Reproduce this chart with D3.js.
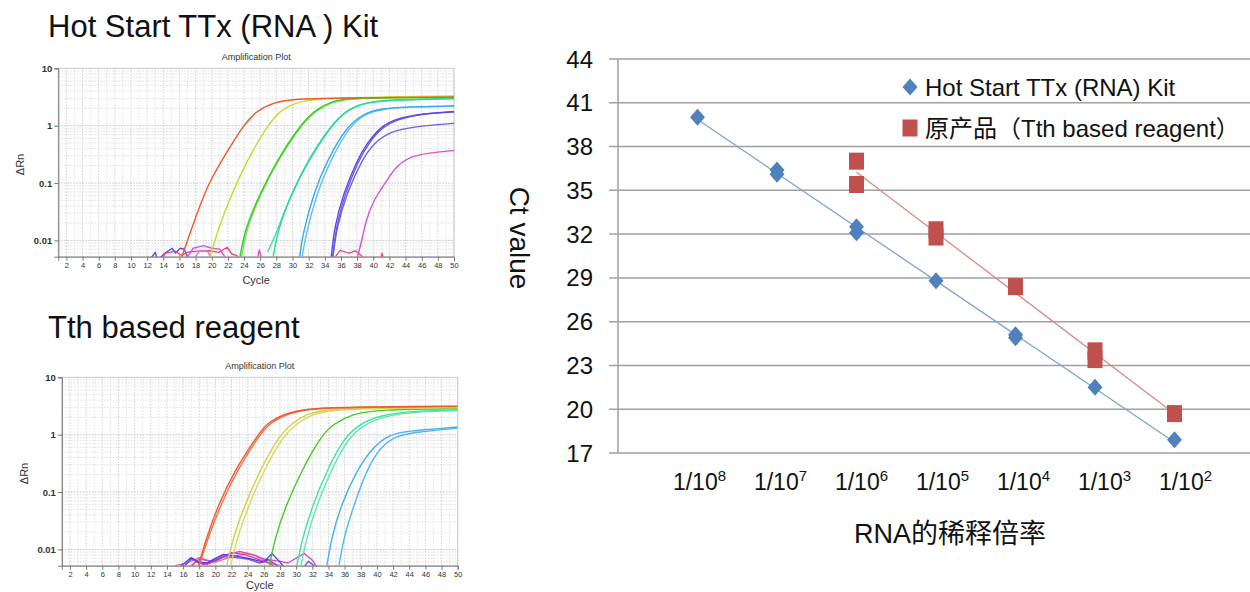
<!DOCTYPE html>
<html lang="zh">
<head>
<meta charset="utf-8">
<script src="https://d3js.org/d3.v7.min.js"></script>
<style>
  body { margin: 0; background: #fff; }
  svg { display: block; font-family: "Liberation Sans", Arial, "Noto Sans CJK SC", sans-serif; }
  .amp text { fill: #333; }
</style>
</head>
<body>
<svg width="1250" height="592"></svg>
<script>
// ---------- right chart: Ct value vs dilution ----------
const dilutionPow = [8, 7, 6, 5, 4, 3, 2];
const ctTicks = [17, 20, 23, 26, 29, 32, 35, 38, 41, 44];
const hotStartPow = [8, 7, 7, 6, 6, 5, 4, 4, 3, 2];
const hotStartCt  = [40.0, 36.4, 36.1, 32.5, 32.1, 28.8, 25.1, 24.9, 21.5, 17.9];
const tthPow = [6, 6, 5, 5, 4, 3, 3, 2];
const tthCt  = [37.0, 35.4, 32.3, 31.8, 28.4, 24.0, 23.4, 19.7];
const legendNames = ["Hot Start TTx (RNA) Kit", "原产品（Tth based reagent）"];

// ---------- amplification plot 1 (Hot Start TTx) : [cycle, dRn] ----------
const ttxOrange  = [[16.3,0.0052],[17.0,0.01],[18.2,0.03],[19.6,0.1],[21.6,0.3],[23.8,0.96],[25.5,1.8],[27.5,2.5],[30,2.9],[35,3.05],[50,3.15]];
const ttxYellow  = [[19.8,0.0052],[20.9,0.0174],[22.5,0.066],[24.4,0.25],[26.8,0.96],[28.5,1.88],[30.6,2.6],[33.4,3.0],[40,3.15],[50,3.3]];
const ttxGreen   = [[23.5,0.0052],[24.2,0.0174],[26.0,0.066],[28.1,0.25],[30.8,0.96],[32.8,1.88],[34.7,2.6],[36.7,3.0],[42,3.1],[50,3.2]];
const ttxGreen2  = [[23.7,0.0052],[24.4,0.018],[26.1,0.066],[28.2,0.25],[30.9,0.95],[32.9,1.85],[34.8,2.55],[36.8,2.95],[42,3.05],[50,3.15]];
const ttxTeal    = [[27.6,0.0052],[28.3,0.0174],[29.9,0.066],[32.0,0.25],[34.7,0.96],[36.7,1.88],[39.2,2.6],[42.5,2.85],[50,3.0]];
const ttxTeal2   = [[26.9,0.0063],[27.9,0.012],[29.5,0.05],[31.8,0.24],[34.6,0.95],[36.6,1.85],[39,2.55],[42.5,2.8],[50,2.95]];
const ttxBlue    = [[30.9,0.0052],[31.2,0.0117],[32.6,0.066],[34.3,0.25],[36.7,0.96],[38.8,1.64],[40.9,2.0],[44.6,2.14],[50,2.2]];
const ttxBlue2   = [[31.2,0.0052],[31.6,0.0117],[33.0,0.066],[34.7,0.25],[37.0,0.96],[39.0,1.62],[41,1.95],[44.6,2.12],[50,2.2]];
const ttxPurple  = [[34.8,0.0052],[35.2,0.0174],[36.3,0.066],[38.0,0.25],[39.2,0.49],[40.9,0.96],[42.9,1.34],[46.2,1.64],[50,1.75]];
const ttxPurple3 = [[35.0,0.0052],[35.4,0.0174],[36.5,0.066],[38.2,0.25],[39.4,0.49],[41.1,0.94],[43,1.3],[46.2,1.62],[50,1.74]];
const ttxPurple2 = [[35.0,0.0052],[35.5,0.017],[36.7,0.066],[38.6,0.25],[40.0,0.49],[42.1,0.79],[45,0.96],[50,1.1]];
const ttxMagenta = [[38.05,0.0052],[38.6,0.01],[39.0,0.02],[40.0,0.05],[41.5,0.099],[42.7,0.19],[44.6,0.29],[46.6,0.33],[50,0.37]];
const ttxNoiseBlue  = [[12.0,0.004],[13.0,0.0062],[13.3,0.0045],[14.2,0.006],[15.1,0.0073],[15.5,0.006],[16.1,0.0073],[16.6,0.007],[17.2,0.0045]];
const ttxNoisePink  = [[13.5,0.004],[14.3,0.006],[15.5,0.0065],[16.2,0.0055],[17.0,0.0062],[18.2,0.0065],[19.8,0.0066],[20.9,0.0062],[21.9,0.0076],[22.5,0.0058],[23.1,0.0055],[23.6,0.004]];
const ttxNoiseMag   = [[16.5,0.004],[17.7,0.0073],[19.0,0.0081],[20.0,0.0073],[21.0,0.007],[22.2,0.004]];
const ttxNoiseMag2  = [[17.5,0.004],[18.5,0.0066],[19.5,0.0064],[20.2,0.004]];
const ttxNoisePink2 = [[25.5,0.004],[25.9,0.0068],[26.3,0.004]];
const ttxNoiseRed   = [[34.7,0.004],[35.9,0.0067],[37.0,0.006],[37.8,0.0066],[38.7,0.0052],[39.3,0.004]];
const ttxNoiseRed2  = [[40.8,0.004],[41.1,0.006],[41.4,0.004]];

// ---------- amplification plot 2 (Tth based reagent) ----------
const tthOrange  = [[17.9,0.0052],[18.9,0.016],[20.4,0.062],[22.4,0.24],[25.1,0.91],[26.3,1.55],[28.4,2.3],[31.3,2.84],[35.8,3.03],[50,3.15]];
const tthOrange2 = [[18.0,0.0052],[19.1,0.016],[20.7,0.062],[22.7,0.24],[25.3,0.9],[26.5,1.5],[28.6,2.25],[31.5,2.8],[36,3.0],[50,3.1]];
const tthYellow  = [[21.4,0.0052],[22.2,0.0163],[23.7,0.062],[25.5,0.238],[27.8,0.91],[29.4,1.55],[31.3,2.32],[33.8,2.73],[37.9,2.95],[50,3.05]];
const tthYellow2 = [[21.9,0.0052],[22.7,0.0163],[24.2,0.062],[26.0,0.238],[28.3,0.91],[29.9,1.5],[31.8,2.25],[34.3,2.65],[38.4,2.85],[50,2.95]];
const tthGreen   = [[26.7,0.0052],[27.4,0.0163],[28.8,0.062],[30.7,0.238],[33.0,0.91],[34.6,1.55],[37.1,2.32],[40.0,2.73],[50,2.85]];
const tthTeal    = [[30.1,0.0052],[30.8,0.0163],[32.1,0.062],[33.8,0.238],[36.0,0.91],[37.9,1.55],[40.4,2.17],[44.1,2.58],[50,2.7]];
const tthTeal2   = [[30.6,0.0052],[31.3,0.0163],[32.6,0.062],[34.3,0.238],[36.5,0.9],[38.4,1.5],[40.9,2.1],[44.5,2.5],[50,2.62]];
const tthBlue    = [[33.8,0.0052],[34.4,0.0163],[35.6,0.062],[37.5,0.238],[39.5,0.61],[41.6,1.02],[43.7,1.14],[46.1,1.22],[50,1.36]];
const tthBlue2   = [[35.3,0.0052],[35.9,0.0163],[37.2,0.062],[38.7,0.238],[40.4,0.61],[42.4,0.95],[44.5,1.1],[50,1.3]];
const tthNoise1 = [[15,0.004],[16,0.0055],[17,0.0072],[18,0.006],[19,0.0058],[20,0.007],[21,0.0082],[22,0.0078],[23,0.0075],[24,0.007],[25,0.0065],[26,0.006],[27,0.0085],[28,0.006],[29,0.004]];
const tthNoise2 = [[15.5,0.004],[17,0.0068],[18.5,0.0055],[20,0.0065],[21,0.0075],[22.5,0.0072],[24,0.0068],[25.5,0.0058],[26.5,0.0066],[27.5,0.0055],[28.5,0.004]];
const tthNoise3 = [[16,0.004],[18,0.0068],[19.5,0.0062],[21,0.0078],[23,0.0092],[24.5,0.0082],[26,0.0068],[28,0.0062],[29,0.0058],[31,0.0085],[32,0.0065],[33,0.004]];
const tthNoise4 = [[16.5,0.004],[17.5,0.006],[19,0.0055],[20.5,0.0068],[22,0.0088],[23.5,0.0082],[25,0.007],[26,0.0062],[27,0.0055],[27.5,0.004]];
const tthNoise5 = [[15,0.0052],[16.5,0.0058],[18,0.0072],[19,0.0065],[20,0.006],[22,0.0075],[24,0.0085],[25,0.0078],[26.5,0.006],[28,0.0052],[29,0.004]];
const tthNoise6 = [[30.5,0.004],[31.5,0.0062],[32,0.0055],[33,0.004]];

const svg = d3.select("svg");

// ================= left: amplification plots =================
function drawAmp(opt) {
  const g = svg.append("g").attr("class", "amp");
  const x = d3.scaleLinear().domain([1, 50]).range([opt.left, opt.right]);
  const y = d3.scaleLog().domain([0.0052, 10]).range([opt.bottom, opt.top]);

  g.append("text").attr("x", 48).attr("y", opt.headY)
    .attr("font-size", 31).style("fill", "#111").text(opt.head);

  g.append("text").attr("x", (opt.left + opt.right) / 2).attr("y", opt.top - 8)
    .attr("text-anchor", "middle").attr("font-size", 9).text("Amplification Plot");

  // grid
  const grid = g.append("g");
  d3.range(2, 51).forEach(c => {
    grid.append("line").attr("x1", x(c)).attr("x2", x(c))
      .attr("y1", opt.top).attr("y2", opt.bottom)
      .attr("stroke", c % 2 === 0 ? "#cfcfcf" : "#e3e3e3").attr("stroke-dasharray", "1.5,1.5");
  });
  y.ticks().forEach(v => {
    if (v <= y.domain()[0] || v >= 10) return;
    const major = Math.abs(Math.log10(v) - Math.round(Math.log10(v))) < 1e-6;
    grid.append("line").attr("x1", opt.left).attr("x2", opt.right)
      .attr("y1", y(v)).attr("y2", y(v))
      .attr("stroke", major ? "#c4c4c4" : "#dedede").attr("stroke-dasharray", "1.5,1.5");
  });
  g.append("rect").attr("x", opt.left).attr("y", opt.top)
    .attr("width", opt.right - opt.left).attr("height", opt.bottom - opt.top)
    .attr("fill", "none").attr("stroke", "#c8c8c8");

  // axes
  g.append("g").attr("transform", `translate(0,${opt.bottom})`)
    .call(d3.axisBottom(x).tickValues(d3.range(2, 51, 2)).tickSize(4).tickPadding(2))
    .call(a => a.select(".domain").attr("stroke", "#777"))
    .call(a => a.selectAll("line").attr("stroke", "#777"))
    .call(a => a.selectAll("text").attr("font-size", 7.5).attr("fill", "#444"));
  g.append("g").attr("transform", `translate(${opt.left},0)`)
    .call(d3.axisLeft(y).tickValues([0.01, 0.1, 1, 10]).tickFormat(d3.format("~g")).tickSize(4).tickPadding(2))
    .call(a => a.select(".domain").attr("stroke", "#777"))
    .call(a => a.selectAll("line").attr("stroke", "#777"))
    .call(a => a.selectAll("text").attr("font-size", 9.5).attr("font-weight", "bold").attr("fill", "#333"));

  g.append("text").attr("x", (opt.left + opt.right) / 2).attr("y", Math.min(opt.bottom + 27, 589))
    .attr("text-anchor", "middle").attr("font-size", 11).text("Cycle");
  g.append("text").attr("transform", `translate(${opt.left - 34},${(opt.top + opt.bottom) / 2 + 2}) rotate(-90)`)
    .attr("text-anchor", "middle").attr("font-size", 11).text("ΔRn");

  // curves
  const clipId = "clip" + Math.round(opt.top);
  svg.append("clipPath").attr("id", clipId).append("rect")
    .attr("x", opt.left).attr("y", opt.top)
    .attr("width", opt.right - opt.left).attr("height", opt.bottom - opt.top);
  const line = d3.line().x(d => x(d[0])).y(d => y(d[1])).curve(d3.curveBasis);
  const noiseLine = d3.line().x(d => x(d[0])).y(d => y(d[1]));
  const cg = g.append("g").attr("clip-path", `url(#${clipId})`);
  opt.series.forEach((s, i) => {
    cg.append("path").datum(s).attr("d", i < opt.noiseCount ? noiseLine : line)
      .attr("fill", "none").attr("stroke", opt.colors[i]).attr("stroke-width", 1.4)
      .attr("stroke-linejoin", "round");
  });
}

drawAmp({
  head: "Hot Start TTx (RNA ) Kit", headY: 37,
  left: 58.3, right: 454, top: 68.3, bottom: 256.7, noiseCount: 7,
  series: [ttxNoiseBlue, ttxNoisePink, ttxNoiseMag, ttxNoiseMag2, ttxNoisePink2, ttxNoiseRed, ttxNoiseRed2,
           ttxMagenta, ttxPurple2, ttxPurple3, ttxPurple, ttxBlue2, ttxBlue, ttxTeal2, ttxTeal, ttxGreen2, ttxGreen, ttxYellow, ttxOrange],
  colors: ["#5050ee", "#f04a7a", "#d955e0", "#e070e8", "#e050c0", "#f0507a", "#f04a7a",
           "#d94fe0", "#7060e8", "#6a58e6", "#5a48e0", "#60c0f0", "#3aa8ee", "#40e0a8", "#28d898", "#78e060", "#3ccc20", "#c8d830", "#ee5a28"]
});

drawAmp({
  head: "Tth based reagent", headY: 338,
  left: 61.9, right: 457.7, top: 377.3, bottom: 565.7, noiseCount: 6,
  series: [tthNoise5, tthNoise4, tthNoise3, tthNoise2, tthNoise1, tthNoise6,
           tthBlue2, tthBlue, tthTeal2, tthTeal, tthGreen, tthYellow2, tthYellow, tthOrange2, tthOrange],
  colors: ["#f060a8", "#f03a6a", "#d848d8", "#8a48e8", "#4848ea", "#5a5ae8",
           "#50b8f0", "#40b0f0", "#58e8b0", "#40e0a0", "#40cc20", "#d8d860", "#d0d048", "#f07048", "#ee5a30"]
});

// ================= right: Ct value chart =================
const xR = d3.scaleLinear().domain([9, 1]).range([618, 1254]);
const yR = d3.scaleLinear().domain([17, 44]).range([453, 59]);
const blue = "#4f81bd", red = "#c0504d";
const rg = svg.append("g");

ctTicks.forEach(t => {
  rg.append("line").attr("x1", 609).attr("x2", 1250).attr("y1", yR(t)).attr("y2", yR(t))
    .attr("stroke", "#a0a0a0").attr("stroke-width", 1.5);
  rg.append("text").attr("x", 593).attr("y", yR(t) + 8.5).attr("text-anchor", "end")
    .attr("font-size", 24).attr("fill", "#111").text(t);
});
rg.append("line").attr("x1", 618).attr("x2", 618).attr("y1", yR(44)).attr("y2", yR(17))
  .attr("stroke", "#a0a0a0").attr("stroke-width", 1.5);

dilutionPow.forEach(p => {
  const t = rg.append("text").attr("x", xR(p) + 2 + (8 - p) * 1.5).attr("y", 489.5).attr("text-anchor", "middle")
    .attr("font-size", 23).attr("fill", "#111");
  t.append("tspan").text("1/10");
  t.append("tspan").attr("font-size", 15).attr("dy", -9).text(p);
});

rg.append("text").attr("x", 950).attr("y", 543).attr("text-anchor", "middle")
  .attr("font-size", 27).attr("fill", "#111").text("RNA的稀释倍率");
rg.append("text").attr("transform", "translate(510,238) rotate(90)").attr("text-anchor", "middle")
  .attr("font-size", 28).attr("fill", "#111").text("Ct value");

// linear trendlines (least squares)
function fit(xs, ys) {
  const mx = d3.mean(xs), my = d3.mean(ys);
  const b = d3.sum(xs, (v, i) => (v - mx) * (ys[i] - my)) / d3.sum(xs, v => (v - mx) ** 2);
  return v => my + b * (v - mx);
}
[[hotStartPow, hotStartCt, "#7ea3d3"], [tthPow, tthCt, "#d98a88"]].forEach(([xs, ys, c]) => {
  const f = fit(xs, ys), ext = d3.extent(xs);
  rg.append("line").attr("x1", xR(ext[1])).attr("y1", yR(f(ext[1])))
    .attr("x2", xR(ext[0])).attr("y2", yR(f(ext[0])))
    .attr("stroke", c).attr("stroke-width", 1.3);
});

const diamond = (cx, cy) => `M${cx},${cy - 8.5}L${cx + 7.5},${cy}L${cx},${cy + 8.5}L${cx - 7.5},${cy}Z`;
tthPow.forEach((p, i) => {
  rg.append("rect").attr("x", xR(p) - 7.5).attr("y", yR(tthCt[i]) - 8.5)
    .attr("width", 15).attr("height", 17).attr("fill", red);
});
hotStartPow.forEach((p, i) => {
  rg.append("path").attr("d", diamond(xR(p), yR(hotStartCt[i]))).attr("fill", blue);
});

// legend
rg.append("path").attr("d", diamond(910, 87)).attr("fill", blue);
rg.append("text").attr("x", 925).attr("y", 95.5).attr("font-size", 24).attr("fill", "#111").text(legendNames[0]);
rg.append("rect").attr("x", 902.5).attr("y", 119.5).attr("width", 15).attr("height", 17).attr("fill", red);
rg.append("text").attr("x", 925).attr("y", 136.5).attr("font-size", 24).attr("fill", "#111").text(legendNames[1]);
</script>
</body>
</html>
